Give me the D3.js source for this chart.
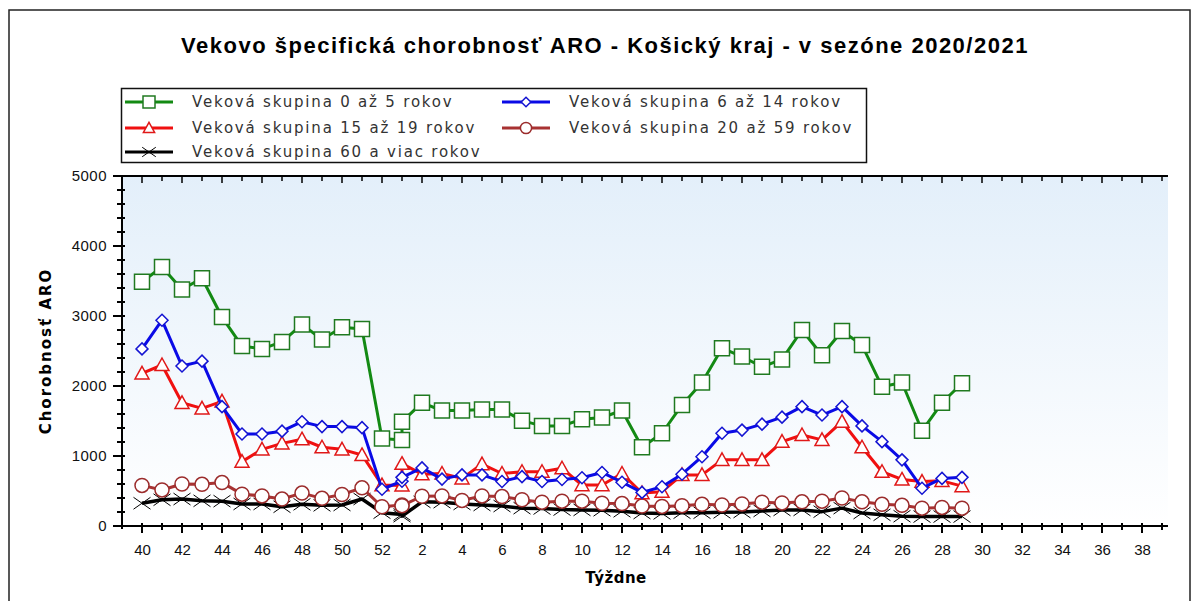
<!DOCTYPE html>
<html>
<head>
<meta charset="utf-8">
<script src="https://cdnjs.cloudflare.com/ajax/libs/d3/7.8.5/d3.min.js"></script>
<style>
  body { margin: 0; background: #fff; }
  #wrapper { width: 1198px; height: 601px; }
</style>
</head>
<body>
<div id="wrapper"></div>
<script>
// weeks of the season, 53 and 1 share one slot on the axis
var weeks = [40, 41, 42, 43, 44, 45, 46, 47, 48, 49, 50, 51, 52, 53,
  1, 2, 3, 4, 5, 6, 7, 8, 9, 10, 11, 12, 13, 14, 15, 16, 17, 18, 19, 20,
  21, 22, 23, 24, 25, 26, 27, 28, 29];

var xTickLabels = ["40", "42", "44", "46", "48", "50", "52", "2", "4", "6", "8", "10", "12",
  "14", "16", "18", "20", "22", "24", "26", "28", "30", "32", "34", "36", "38"];
var yTickValues = [0, 1000, 2000, 3000, 4000, 5000];

var seriesNames = [
  "Veková skupina 0 až 5 rokov",
  "Veková skupina 6 až 14 rokov",
  "Veková skupina 15 až 19 rokov",
  "Veková skupina 20 až 59 rokov",
  "Veková skupina 60 a viac rokov"
];

var age0to5 = [3490, 3700, 3380, 3540, 2985, 2570, 2530, 2630, 2880, 2665, 2840, 2815, 1250, 1230,
  1490, 1760, 1650, 1650, 1665, 1665, 1505, 1430, 1430, 1525, 1550, 1650, 1125, 1325, 1730, 2050,
  2540, 2420, 2275, 2380, 2800, 2440, 2785, 2585, 1990, 2050, 1360, 1760, 2040];
var age6to14 = [2530, 2940, 2285, 2355, 1705, 1315, 1315, 1355, 1490, 1420, 1420, 1405, 525, 640,
  695, 830, 670, 730, 730, 635, 705, 635, 665, 690, 765, 625, 480, 560, 740, 990,
  1325, 1370, 1455, 1555, 1705, 1585, 1705, 1430, 1205, 945, 540, 680, 695];
var age15to19 = [2180, 2300, 1760, 1680, 1780, 920, 1095, 1180, 1240, 1125, 1095, 1015, 585, 580,
  890, 740, 750, 680, 885, 750, 775, 775, 825, 585, 585, 750, 470, 490, 730, 730,
  945, 945, 945, 1205, 1300, 1230, 1490, 1125, 775, 665, 635, 645, 570];
var age20to59 = [580, 515, 600, 595, 620, 455, 430, 385, 470, 395, 450, 545, 275, 300,
  290, 425, 430, 365, 430, 420, 375, 340, 355, 355, 325, 320, 285, 280, 290, 310,
  300, 315, 340, 330, 345, 355, 400, 345, 310, 295, 255, 265, 255];
var age60plus = [325, 375, 385, 360, 355, 315, 315, 275, 310, 295, 300, 385, 190, 165,
  140, 345, 340, 315, 300, 285, 255, 250, 235, 230, 225, 210, 185, 180, 190, 190,
  195, 200, 215, 230, 230, 205, 255, 185, 160, 140, 135, 135, 135];

// slot on the x axis for a week number
function weekPos(w) {
  if (w >= 40) return w - 40;
  return w + 12;
}

var width = 1198, height = 601;
var plot = {left: 122, right: 1168, top: 176, bottom: 526};

var svg = d3.select("#wrapper").append("svg")
    .attr("width", width)
    .attr("height", height)
    .style("font-family", "'DejaVu Sans', Verdana, sans-serif");

var x = d3.scaleLinear().domain([-1, 51.3]).range([plot.left, plot.right]);
var y = d3.scaleLinear().domain([0, 5000]).range([plot.bottom, plot.top]);

// outer frame
svg.append("rect")
    .attr("x", 9).attr("y", 10)
    .attr("width", 1181).attr("height", 620)
    .attr("fill", "none")
    .attr("stroke", "#222")
    .attr("stroke-width", 1.5);

// background gradient of the plot area
var grad = svg.append("defs").append("linearGradient")
    .attr("id", "bg").attr("x1", 0).attr("y1", 0).attr("x2", 0).attr("y2", 1);
grad.append("stop").attr("offset", "0%").attr("stop-color", "#e3effa");
grad.append("stop").attr("offset", "100%").attr("stop-color", "#ffffff");

svg.append("rect")
    .attr("x", plot.left).attr("y", plot.top)
    .attr("width", plot.right - plot.left)
    .attr("height", plot.bottom - plot.top)
    .attr("fill", "url(#bg)");

//Adding a title
svg.append("text")
    .attr("x", 605)
    .attr("y", 53)
    .attr("text-anchor", "middle")
    .style("font-family", "'Liberation Sans', Arial, sans-serif")
    .style("font-weight", "bold")
    .style("font-size", "22px")
    .style("letter-spacing", "1.5px")
    .text("Vekovo špecifická chorobnosť ARO - Košický kraj - v sezóne 2020/2021");

// axes: d3 axis for labels, custom ticks crossing the line
var minorX = d3.range(0, 52);
var majorX = d3.range(0, 51, 2);

var xAxis = d3.axisBottom(x)
    .tickValues(majorX)
    .tickFormat(function (d, i) { return xTickLabels[i]; })
    .tickSize(0)
    .tickPadding(18);
var gx = svg.append("g")
    .attr("transform", "translate(0," + plot.bottom + ")")
    .call(xAxis);
gx.select(".domain").remove();
gx.selectAll("text").style("font-size", "15px").attr("fill", "#111");

svg.append("line")
    .attr("x1", plot.left).attr("x2", plot.right)
    .attr("y1", plot.bottom).attr("y2", plot.bottom)
    .attr("stroke", "#000").attr("stroke-width", 2);
svg.append("line")
    .attr("x1", plot.left).attr("x2", plot.right)
    .attr("y1", plot.top).attr("y2", plot.top)
    .attr("stroke", "#000").attr("stroke-width", 2);

// bottom and top ticks
svg.selectAll(".xtick").data(minorX).enter().append("line")
    .attr("class", "xtick")
    .attr("x1", function (d) { return x(d); })
    .attr("x2", function (d) { return x(d); })
    .attr("y1", function (d) { return plot.bottom - 3; })
    .attr("y2", function (d) { return plot.bottom + (d % 2 === 0 ? 7 : 4); })
    .attr("stroke", "#000").attr("stroke-width", 2);
svg.selectAll(".xtopTick").data(minorX).enter().append("line")
    .attr("class", "xtopTick")
    .attr("x1", function (d) { return x(d); })
    .attr("x2", function (d) { return x(d); })
    .attr("y1", plot.top)
    .attr("y2", function (d) { return plot.top + (d % 2 === 0 ? 7 : 5); })
    .attr("stroke", "#000").attr("stroke-width", 1.5);

var yAxis = d3.axisLeft(y)
    .tickValues(yTickValues)
    .tickFormat(d3.format("d"))
    .tickSize(0)
    .tickPadding(15);
var gy = svg.append("g")
    .attr("transform", "translate(" + plot.left + ",0)")
    .call(yAxis);
gy.select(".domain").remove();
gy.selectAll("text").style("font-size", "15px").style("letter-spacing", "0.5px").attr("fill", "#111");

svg.append("line")
    .attr("x1", plot.left).attr("x2", plot.left)
    .attr("y1", plot.top).attr("y2", plot.bottom + 3)
    .attr("stroke", "#000").attr("stroke-width", 2);

var yMinor = d3.range(0, 5001, 200);
svg.selectAll(".ytick").data(yMinor).enter().append("line")
    .attr("class", "ytick")
    .attr("x1", function (d) { return plot.left - (d % 1000 === 0 ? 9 : 5); })
    .attr("x2", plot.left + 3)
    .attr("y1", function (d) { return y(d); })
    .attr("y2", function (d) { return y(d); })
    .attr("stroke", "#000").attr("stroke-width", 2);

//Adding axis labels
svg.append("text")
    .attr("x", 616)
    .attr("y", 583)
    .attr("text-anchor", "middle")
    .style("font-weight", "bold")
    .style("font-size", "15px")
    .style("letter-spacing", "0.5px")
    .text("Týždne");

svg.append("text")
    .attr("transform", "translate(51,351) rotate(-90)")
    .attr("text-anchor", "middle")
    .style("font-weight", "bold")
    .style("font-size", "15px")
    .style("letter-spacing", "2px")
    .text("Chorobnosť ARO");

// marker shapes
function markerPath(kind, s) {
  var h = s / 2;
  if (kind === "square") return "M" + (-h) + "," + (-h) + "h" + s + "v" + s + "h" + (-s) + "Z";
  if (kind === "diamond") return "M0," + (-h) + "L" + h + ",0L0," + h + "L" + (-h) + ",0Z";
  if (kind === "triangle") return "M0," + (-h) + "L" + h + "," + (h * 0.8) + "L" + (-h) + "," + (h * 0.8) + "Z";
  if (kind === "circle") return d3.symbol().type(d3.symbolCircle).size(Math.PI * h * h)();
  if (kind === "cross") return "M" + (-h) + "," + (-h * 0.7) + "L" + h + "," + (h * 0.7) + "M" + (-h) + "," + (h * 0.7) + "L" + h + "," + (-h * 0.7);
  return "";
}

var series = [
  {name: seriesNames[4], values: age60plus, line: "#000000", stroke: "#000000", marker: "cross", size: 17},
  {name: seriesNames[3], values: age20to59, line: "#a83232", stroke: "#9b2c2c", marker: "circle", size: 14},
  {name: seriesNames[2], values: age15to19, line: "#f01010", stroke: "#e01818", marker: "triangle", size: 14},
  {name: seriesNames[1], values: age6to14, line: "#0a0ae6", stroke: "#1414d2", marker: "diamond", size: 12},
  {name: seriesNames[0], values: age0to5, line: "#138a13", stroke: "#207a20", marker: "square", size: 15}
];

var line = d3.line()
    .x(function (d) { return x(weekPos(d.week)); })
    .y(function (d) { return y(d.value); });

series.forEach(function (s) {
  var pts = weeks.map(function (w, i) { return {week: w, value: s.values[i]}; });
  var g = svg.append("g");
  g.append("path")
      .datum(pts)
      .attr("d", line)
      .attr("fill", "none")
      .attr("stroke", s.line)
      .attr("stroke-width", s.marker === "cross" ? 3.5 : 3)
      .attr("stroke-linejoin", "round");
  g.selectAll("path.mk").data(pts).enter().append("path")
      .attr("class", "mk")
      .attr("transform", function (d) { return "translate(" + x(weekPos(d.week)) + "," + y(d.value) + ")"; })
      .attr("d", markerPath(s.marker, s.size))
      .attr("fill", s.marker === "cross" ? "none" : "#fff")
      .attr("stroke", s.stroke)
      .attr("stroke-width", s.marker === "cross" ? 1 : 1.5);
});

// legend, same order as the reference: 0-5 | 6-14, 15-19 | 20-59, 60+
var legendOrder = [age0to5, age6to14, age15to19, age20to59, age60plus];
var legendItems = legendOrder.map(function (vals, i) {
  var s = series.filter(function (d) { return d.values === vals; })[0];
  return {s: s, col: i % 2, row: Math.floor(i / 2)};
});

var legend = svg.append("g");
legend.append("rect")
    .attr("x", 121.5).attr("y", 88.5)
    .attr("width", 745).attr("height", 74)
    .attr("fill", "#fff")
    .attr("stroke", "#111")
    .attr("stroke-width", 1.5);

var colX = [125, 502];
var rowY = [102, 128, 152];
legendItems.forEach(function (d) {
  var x0 = colX[d.col], yy = rowY[d.row];
  var s = d.s;
  legend.append("line")
      .attr("x1", x0).attr("x2", x0 + 48)
      .attr("y1", yy).attr("y2", yy)
      .attr("stroke", s.line).attr("stroke-width", 3);
  legend.append("path")
      .attr("transform", "translate(" + (x0 + 24) + "," + yy + ")")
      .attr("d", markerPath(s.marker, s.size * 0.8))
      .attr("fill", s.marker === "cross" ? "none" : "#fff")
      .attr("stroke", s.stroke)
      .attr("stroke-width", s.marker === "cross" ? 1 : 1.5);
  legend.append("text")
      .attr("x", x0 + 67)
      .attr("y", yy + 5)
      .style("font-size", "15px")
      .style("letter-spacing", "1.8px")
      .attr("fill", "#333")
      .text(s.name);
});
</script>
</body>
</html>
